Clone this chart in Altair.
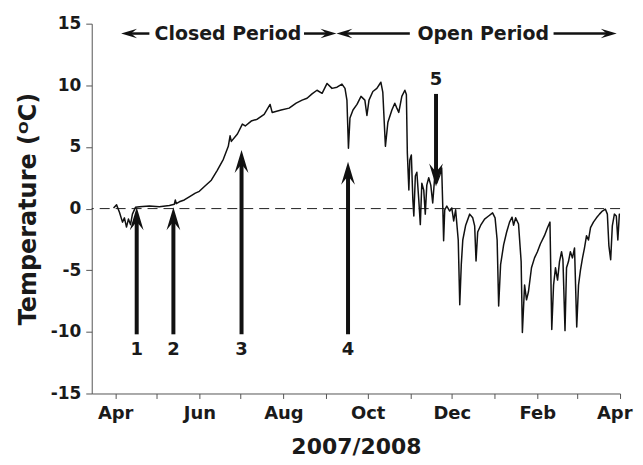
import altair as alt
import pandas as pd

START = pd.Timestamp("2007-04-01")

# ---- temperature trace: days since 1 Apr 2007, temperature (deg C) ----
day = [
    -1.2, 1.0, 3.1, 5.3, 6.7, 8.2, 9.6, 11.1, 12.5, 14.7,
    17.6, 24.8, 32.0, 39.3, 42.9, 43.6, 44.3, 46.5, 50.1, 53.7,
    58.1, 61.0, 65.3, 69.7, 74.0, 78.4, 82.0, 83.3, 84.2, 88.6,
    92.2, 94.3, 98.6, 103.0, 108.0, 112.3, 113.8, 120.3, 126.1, 131.2,
    135.5, 139.1, 142.7, 146.3, 150.0, 153.6, 157.2, 160.8, 164.4, 166.6,
    168.0, 169.1, 170.2, 172.4, 175.3, 178.2, 181.0, 182.5, 184.0, 186.8,
    189.7, 192.6, 194.0, 195.9, 197.7, 200.6, 202.7, 204.2, 205.6, 207.8,
    210.0, 211.1, 211.8, 212.9, 213.6, 214.7, 215.8, 216.5, 217.6, 218.7,
    220.1, 221.2, 222.3, 223.7, 224.8, 225.9, 227.3, 228.8, 230.2, 231.7,
    233.1, 235.3, 236.7, 237.5, 238.1, 238.9, 240.4, 242.5, 244.0, 245.4,
    246.8, 248.7, 249.8, 250.9, 252.0, 254.1, 257.0, 259.2, 260.6, 261.6,
    262.8, 265.0, 267.8, 270.7, 273.6, 275.4, 276.9, 278.0, 279.4, 281.6,
    283.8, 285.9, 287.7, 288.8, 290.3, 292.4, 294.3, 295.2, 296.8, 298.2,
    299.6, 301.8, 304.0, 306.1, 308.3, 311.2, 313.4, 315.2, 316.5, 317.8,
    319.2, 320.7, 322.1, 323.6, 324.6, 326.1, 327.2, 328.6, 330.0, 331.5,
    333.0, 334.6, 335.9, 337.3, 338.8, 340.2, 341.7, 343.1, 344.6, 346.7,
    348.9, 351.1, 353.2, 355.4, 356.8, 357.9, 359.2, 360.4, 361.9, 363.3,
    364.4, 365.5, 366.0,
]
temp = [
    0.05, 0.3, -0.3, -1.1, -0.75, -1.5, -0.85, -1.3, -0.45, 0.1,
    0.15, 0.2, 0.15, 0.25, 0.35, 0.7, 0.4, 0.55, 0.7, 0.95,
    1.25, 1.4, 1.85, 2.3, 3.1, 4.0, 5.05, 5.9, 5.45, 6.05,
    6.85, 6.7, 7.1, 7.25, 7.65, 8.45, 7.8, 8.0, 8.15, 8.55,
    8.8, 8.95, 9.3, 9.6, 9.35, 10.15, 9.75, 9.85, 10.1, 9.75,
    8.8, 4.9, 7.35, 8.0, 8.45, 9.1, 8.8, 7.55, 8.8, 9.5,
    9.75, 10.25, 9.45, 5.05, 7.0, 8.0, 8.55, 8.15, 7.8, 9.1,
    9.6, 9.25, 4.5, 1.5, 3.95, 4.35, 0.7, -0.6, 2.65, 2.95,
    0.7, -1.3, 2.05, 1.5, -0.45, 1.9, 2.5, 1.9, 0.45, 2.65,
    2.05, 2.7, 3.3, 0.1, -2.6, -0.1, 0.2, -0.2, 0.05, -1.0,
    -0.1, -2.55, -7.8, -4.55, -2.55, -1.35, -0.45, -0.75, -1.4, -4.25,
    -1.9, -1.35, -0.85, -0.6, -0.35, -0.75, -2.55, -7.9, -4.55, -2.95,
    -1.9, -1.1, -0.7, -1.35, -0.75, -1.25, -4.3, -10.05, -6.2, -7.4,
    -6.75, -4.8, -4.0, -3.5, -2.85, -2.2, -1.55, -1.1, -9.8, -6.2,
    -4.8, -5.8, -4.3, -3.5, -4.15, -9.9, -4.8, -4.3, -3.5, -4.0,
    -3.2, -9.6, -6.2, -5.0, -4.0, -3.2, -2.2, -2.55, -1.55, -1.1,
    -0.75, -0.45, -0.2, -0.05, -0.45, -3.0, -4.15, -1.4, -0.45, -0.6,
    -2.55, -0.45, -0.5,
]

# ---- numbered arrows ----
arrow_num = ["1", "2", "3", "4", "5"]
arrow_day = [15.6, 42.2, 91.6, 168.8, 232.6]
arrow_tip = [0.1, 0.1, 4.75, 3.8, 1.8]
arrow_base = [-10.2, -10.2, -10.2, -10.2, 9.3]
arrow_label = [-11.45, -11.45, -11.45, -11.45, 10.4]
arrow_dir = ["up", "up", "up", "up", "down"]

# ---- period annotation at the top ----
period_name = ["Closed Period", "Open Period"]
period_mid = [81.7, 266.8]
period_level = 14.2
period_arrow_start = [24.8, 136.9, 213.6, 317.8]
period_arrow_tip = [4.3, 160.4, 160.4, 363.6]
period_arrow_dir = ["left", "right", "left", "right"]

FONT = "DejaVu Sans"
INK = "#1a1a1a"
AXC = "#555555"


def to_date(days):
    return [(START + pd.Timedelta(days=float(d))).strftime("%Y-%m-%dT%H:%M:%S") for d in days]


df = pd.DataFrame({"date": to_date(day), "temp": temp})
df_zero = pd.DataFrame({"temp": [0.0]})
sign = [1 if d == "up" else -1 for d in arrow_dir]
df_arrow = pd.DataFrame({
    "date": to_date(arrow_day),
    "tip": arrow_tip,
    "base": arrow_base,
    "shaft_end": [t - 1.0 * s for t, s in zip(arrow_tip, sign)],
    "lab": arrow_label,
    "num": arrow_num,
    "dir": arrow_dir,
})
psign = [1 if d == "left" else -1 for d in period_arrow_dir]
df_parrow = pd.DataFrame({
    "start": to_date(period_arrow_start),
    "shaft_end": to_date([t + 6.0 * s for t, s in zip(period_arrow_tip, psign)]),
    "tip": to_date(period_arrow_tip),
    "level": [period_level] * len(period_arrow_tip),
    "dir": period_arrow_dir,
})
df_ptext = pd.DataFrame({
    "mid": to_date(period_mid),
    "level": [period_level] * len(period_name),
    "name": period_name,
})

x_scale = alt.Scale(domain=[alt.DateTime(year=2007, month=3, date=15),
                            alt.DateTime(year=2008, month=4, date=1)])
y_scale = alt.Scale(domain=[-15, 15], nice=False, zero=False)

ym = [(2007, m) for m in range(4, 13)] + [(2008, m) for m in range(1, 5)]
month_ticks = [alt.DateTime(year=y, month=m, date=1) for y, m in ym]

x_axis = alt.Axis(
    values=month_ticks,
    labelExpr="month(datum.value) % 2 == 1 ? timeFormat(datum.value, '%b') : ''",
    title="2007/2008", titleFont=FONT, titleFontSize=22, titleFontWeight="bold",
    titleColor=INK, titleY=60, titleBaseline="alphabetic",
    labelFont=FONT, labelFontSize=18, labelFontWeight="bold", labelColor=INK,
    labelPadding=6, labelOverlap=False, labelFlush=True, labelFlushOffset=12,
    tickSize=5, tickColor=AXC, domainColor=AXC, grid=False,
)
y_axis = alt.Axis(
    values=[-15, -10, -5, 0, 5, 10, 15],
    labelExpr="datum.value < 0 ? '-' + (-datum.value) : '' + datum.value",
    title="Temperature (ᴼC)", titleFont=FONT, titleFontSize=24, titleFontWeight="bold",
    titleColor=INK, titleX=-56.5, titleY=185.5, titleAngle=270,
    titleAlign="center", titleBaseline="alphabetic",
    labelFont=FONT, labelFontSize=17, labelFontWeight="bold", labelColor=INK,
    labelPadding=5, labelFlush=False, tickSize=6, tickColor=AXC, domainColor=AXC, grid=False,
)


def X(f):
    return alt.X(f, type="temporal", scale=x_scale, axis=x_axis)


def Y(f):
    return alt.Y(f, type="quantitative", scale=y_scale, axis=y_axis)


UP = "M0,0 L0.6,2 L0,1.25 L-0.6,2 Z"
DOWN = "M0,0 L0.6,-2 L0,-1.25 L-0.6,-2 Z"
RIGHT = "M0,0 L-2,-0.6 L-1.25,0 L-2,0.6 Z"
LEFT = "M0,0 L2,-0.6 L1.25,0 L2,0.6 Z"

zero = alt.Chart(df_zero).mark_rule(color="#222", strokeWidth=1, strokeDash=[10, 6]).encode(y=Y("temp"))

line = alt.Chart(df).mark_line(color="#111", strokeWidth=1.5, strokeJoin="round", clip=True).encode(
    x=X("date"), y=Y("temp"))

shafts = alt.Chart(df_arrow).mark_rule(color="#111", strokeWidth=4).encode(
    x=X("date"), y=Y("base"), y2="shaft_end:Q")
heads = alt.Chart(df_arrow).mark_point(filled=True, opacity=1, color="#111", size=529).encode(
    x=X("date"), y=Y("tip"),
    shape=alt.Shape("dir:N", scale=alt.Scale(domain=["up", "down"], range=[UP, DOWN]), legend=None))
nums = alt.Chart(df_arrow).mark_text(font=FONT, fontSize=18, fontWeight="bold", color=INK,
                                     baseline="middle", align="center").encode(
    x=X("date"), y=Y("lab"), text="num:N")

pshafts = alt.Chart(df_parrow).mark_rule(color="#111", strokeWidth=2.5).encode(
    x=X("start"), x2="shaft_end:T", y=Y("level"))
pheads = alt.Chart(df_parrow).mark_point(filled=True, opacity=1, color="#111", size=256).encode(
    x=X("tip"), y=Y("level"),
    shape=alt.Shape("dir:N", scale=alt.Scale(domain=["left", "right"], range=[LEFT, RIGHT]), legend=None))
ptext = alt.Chart(df_ptext).mark_text(font=FONT, fontSize=19, fontWeight="bold", color=INK,
                                      baseline="middle", align="center").encode(
    x=X("mid"), y=Y("level"), text="name:N")

chart = alt.layer(zero, line, shafts, heads, nums, pshafts, pheads, ptext).resolve_scale(
    shape="independent"
).properties(
    width=530, height=371,
    padding={"left": 84, "top": 15, "right": 15, "bottom": 66},
    autosize=alt.AutoSizeParams(type="none"),
).configure_view(stroke=None)

chart.save("out.html", embed_options={"renderer": "svg", "actions": False})
